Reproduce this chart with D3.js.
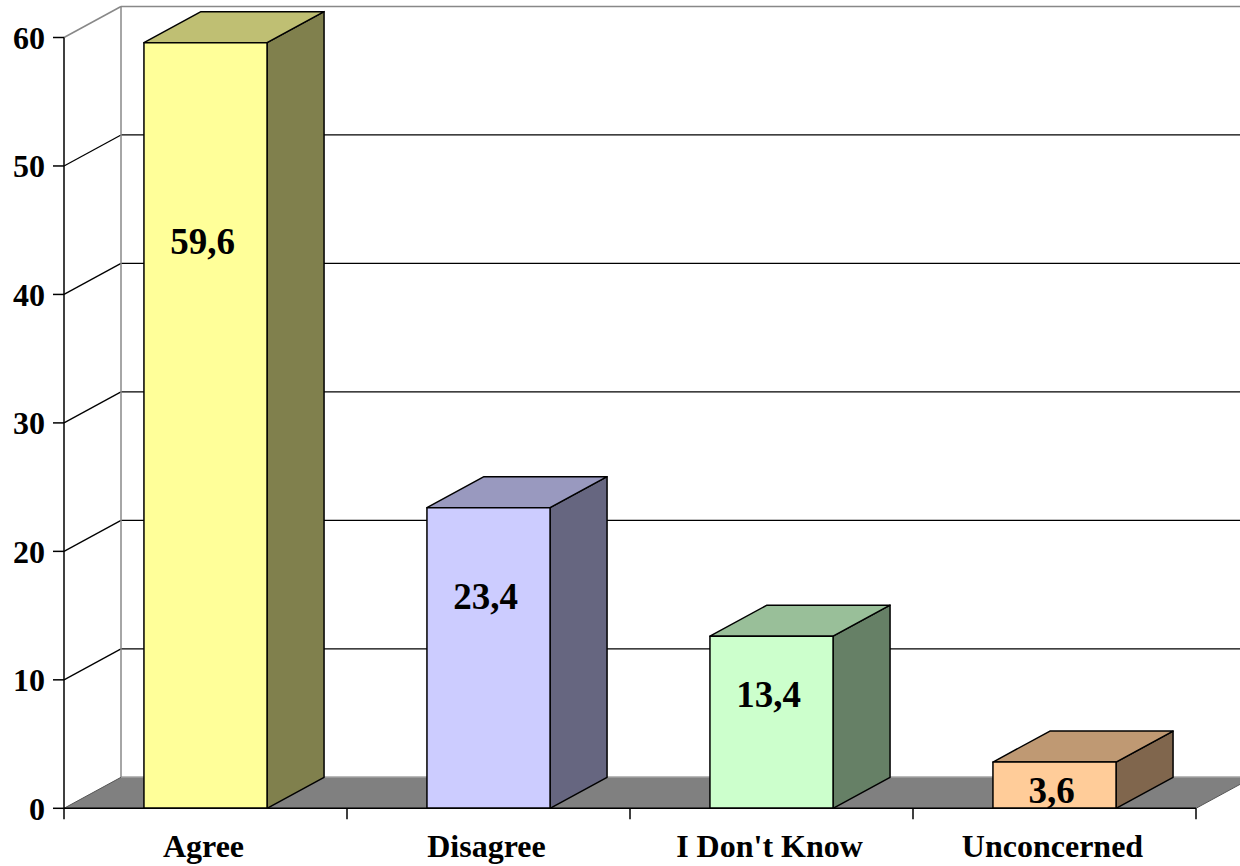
<!DOCTYPE html>
<html><head><meta charset="utf-8">
<script src="https://cdn.jsdelivr.net/npm/d3@7"></script>
<style>html,body{margin:0;padding:0;background:#fff;overflow:hidden}</style>
</head><body>
<svg id="c" width="1240" height="866"></svg>
<script>
const categories = ["Agree", "Disagree", "I Don't Know", "Unconcerned"];
const values = [59.6, 23.4, 13.4, 3.6];
const valueLabels = ["59,6", "23,4", "13,4", "3,6"];
const yTicks = [0, 10, 20, 30, 40, 50, 60];
const frontColors = ["#FFFF99", "#CCCCFF", "#CCFFCC", "#FFCC99"];
const topColors = ["#BFBF73", "#9999BF", "#99BF99", "#BF9973"];
const sideColors = ["#80804D", "#666680", "#668066", "#80664D"];

const svg = d3.select("#c");
const x0 = 64, x1 = 1196, DX = 57, DY = -31;
const y = d3.scaleLinear().domain([0, 60]).range([808.3, 37.5]);
const x = d3.scaleBand().domain(categories).range([x0, x1]).paddingInner(0.565).paddingOuter(0.2825);
const xb = d3.scaleBand().domain(categories).range([x0, x1]).padding(0);
const font = "'Liberation Serif','Times New Roman',serif";

// back wall
svg.append("rect").attr("x", x0 + DX).attr("y", y(60) + DY).attr("width", 1240 - x0 - DX + 5).attr("height", y(0) - y(60)).attr("fill", "#fff");
// gridlines on back wall and side wall
yTicks.filter(t => t > 0 && t < 60).forEach(t => {
  svg.append("line").attr("x1", x0 + DX).attr("x2", 1245).attr("y1", y(t) + DY).attr("y2", y(t) + DY).attr("stroke", "#000").attr("stroke-width", 1.3);
  svg.append("line").attr("x1", x0).attr("x2", x0 + DX).attr("y1", y(t)).attr("y2", y(t) + DY).attr("stroke", "#000").attr("stroke-width", 1.3);
});
// wall borders
svg.append("line").attr("x1", x0 + DX).attr("x2", 1245).attr("y1", y(60) + DY).attr("y2", y(60) + DY).attr("stroke", "#888").attr("stroke-width", 1.5);
svg.append("line").attr("x1", x0 + DX).attr("x2", x0 + DX).attr("y1", y(60) + DY).attr("y2", y(0) + DY).attr("stroke", "#888").attr("stroke-width", 1.5);
svg.append("line").attr("x1", x0).attr("x2", x0 + DX).attr("y1", y(60)).attr("y2", y(60) + DY).attr("stroke", "#888").attr("stroke-width", 1.5);

// floor
svg.append("polygon")
  .attr("points", [[x0, y(0)], [x1, y(0)], [x1 + DX, y(0) + DY], [x0 + DX, y(0) + DY]].map(p => p.join(",")).join(" "))
  .attr("fill", "#808080").attr("stroke", "#555").attr("stroke-width", 1);
svg.append("line").attr("x1", x0 + DX).attr("x2", 1245).attr("y1", y(0) + DY).attr("y2", y(0) + DY).attr("stroke", "#999").attr("stroke-width", 1.5);

// bars
categories.forEach((c, i) => {
  const v = values[i];
  const bx = x(c), bw = x.bandwidth(), top = y(v), bot = y(0);
  const g = svg.append("g").attr("stroke", "#000").attr("stroke-width", 1.5).attr("stroke-linejoin", "round");
  g.append("polygon").attr("fill", sideColors[i])
    .attr("points", [[bx + bw, top], [bx + bw + DX, top + DY], [bx + bw + DX, bot + DY], [bx + bw, bot]].map(p => p.join(",")).join(" "));
  g.append("polygon").attr("fill", topColors[i])
    .attr("points", [[bx, top], [bx + DX, top + DY], [bx + bw + DX, top + DY], [bx + bw, top]].map(p => p.join(",")).join(" "));
  g.append("rect").attr("x", bx).attr("y", top).attr("width", bw).attr("height", bot - top).attr("fill", frontColors[i]);
  const ly = y(0) + 0.763 * (top - y(0)) + 17;
  svg.append("text").attr("x", bx + bw / 2 - 3).attr("y", ly).attr("dy", "0.35em")
    .attr("text-anchor", "middle").attr("font-family", font).attr("font-weight", "bold").attr("font-size", 37)
    .text(valueLabels[i]);
});

// front y axis
svg.append("line").attr("x1", x0).attr("x2", x0).attr("y1", y(60)).attr("y2", y(0)).attr("stroke", "#000").attr("stroke-width", 1.5);
yTicks.forEach(t => {
  svg.append("line").attr("x1", x0 - 11).attr("x2", x0).attr("y1", y(t)).attr("y2", y(t)).attr("stroke", "#000").attr("stroke-width", 1.5);
  svg.append("text").attr("x", x0 - 19).attr("y", y(t)).attr("dy", "0.35em").attr("text-anchor", "end")
    .attr("font-family", font).attr("font-weight", "bold").attr("font-size", 32).text(t);
});
// x axis
svg.append("line").attr("x1", x0).attr("x2", x1).attr("y1", y(0)).attr("y2", y(0)).attr("stroke", "#000").attr("stroke-width", 1.5);
xb.domain().concat(["_end"]).forEach((c, i) => {
  const tx = i < categories.length ? xb(c) : x1;
  svg.append("line").attr("x1", tx).attr("x2", tx).attr("y1", y(0)).attr("y2", y(0) + 11).attr("stroke", "#000").attr("stroke-width", 1.5);
});
categories.forEach(c => {
  svg.append("text").attr("x", xb(c) + xb.bandwidth() / 2 - 2).attr("y", 857).attr("text-anchor", "middle")
    .attr("font-family", font).attr("font-weight", "bold").attr("font-size", 32).text(c);
});
</script>
</body></html>
